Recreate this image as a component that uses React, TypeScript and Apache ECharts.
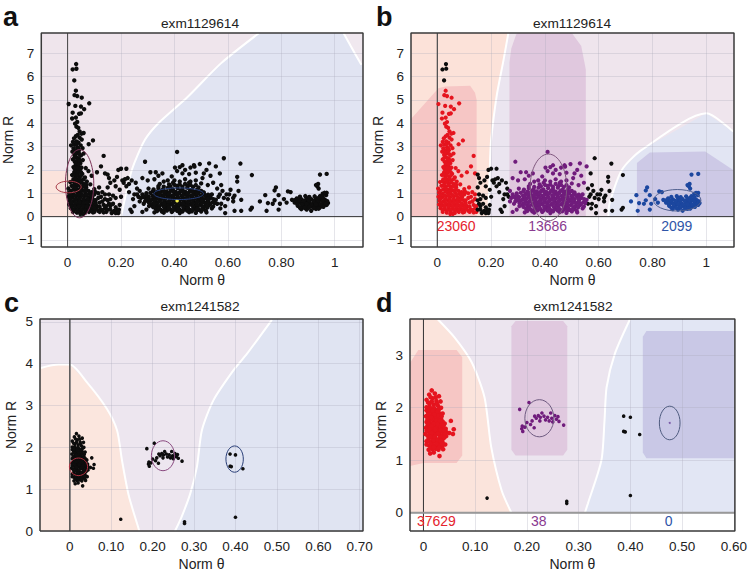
import React, { useEffect, useRef } from "react";
import * as echarts from "echarts";

// ---------- data: [Norm θ, Norm R] ----------
const exm1129614Plume = [
[.032,6.53],[.019,6.3],[.033,6.33],[.025,5.83],[.031,5.39],[.026,5.2],[.036,5.16],[.053,5.09],[.081,4.85],[.004,4.82],[.029,4.74],[.05,4.71],[.062,4.6],[.043,4.4],[.05,4.42],[.019,4.45],[.017,4.2],[.031,4.24],[.036,4.05],[.028,3.98],[.033,3.85],[.04,3.8],[.045,3.65],[.06,3.58],[.052,3.55],[.038,3.5],[.031,3.44],[.024,3.35],[.045,3.38],[.053,3.3],[.095,3.26],[.02,3.2],[.033,3.22],[.041,3.17],[.079,3.1],[.013,3.05],[.026,3.08],[.049,3.05],[.036,2.96],[.022,2.92],[.056,2.93],[.03,2.83],[.043,2.84],[.018,2.78],[.06,2.7],[.036,2.72],[.025,2.65],[.05,2.62],[.032,2.55],[.042,2.5],[.02,2.45],[.057,2.42],[.027,2.35],[.036,2.33],[.048,2.28],[.03,2.2],[.04,2.16],[.022,2.12],[.052,2.1],[.068,2.08],[.03,2.02],[.043,1.98],[.025,1.9],[.035,1.86],[.055,1.83],[.078,1.95],[.017,1.78],[.03,1.72],[.045,1.7],[.065,1.68],[.09,1.75],[.022,1.6],[.037,1.58],[.052,1.55],[.072,1.5],[.01,1.48],[.028,1.45],[.042,1.42],[.06,1.4],[.085,1.38],[.015,1.32],[.033,1.3],[.05,1.28],[.07,1.25],[.003,1.2],[.022,1.18],[.04,1.15],[.058,1.12],[.078,1.1],[.1,1.18],
[.034,3.1],[.04,2.92],[.03,2.74],[.044,2.68],[.026,2.52],[.038,2.42],[.046,2.4],[.032,2.28],[.042,2.24],[.026,2.06],[.036,2.08],[.047,2.04],[.03,1.94],[.04,1.9],[.05,1.9],[.024,1.8],[.036,1.76],[.05,1.76],[.06,1.6],[.03,1.62],[.044,1.6],[.02,1.52],[.036,1.5],[.05,1.46],[.07,1.36],[.024,1.36],[.042,1.34],[.06,1.3],[.03,1.22],[.05,1.2],[.068,1.15],[.012,1.1],[.03,1.08],[.048,1.08],[.09,1.05],
];
const exm1129614Blob = [
[.006,1.02],[.02,.98],[.036,1.04],[.05,.99],[.066,1.02],[.083,.97],[.097,1.03],
[.004,.85],[.018,.82],[.033,.87],[.047,.83],[.062,.86],[.078,.81],[.092,.84],
[.008,.68],[.023,.66],[.038,.7],[.053,.65],[.068,.69],[.082,.66],[.098,.7],
[.006,.52],[.02,.49],[.035,.53],[.05,.5],[.065,.52],[.08,.48],[.094,.5],
[.012,.36],[.028,.33],[.043,.37],[.058,.34],[.073,.36],[.088,.32],[.104,.35],
[.02,.2],[.035,.17],[.05,.21],[.065,.16],[.08,.2],[.048,.11],[.095,.18],
[.012,.92],[.027,.9],[.042,.94],[.057,.91],[.072,.93],[.088,.9],
[.011,.76],[.03,.74],[.045,.77],[.06,.74],[.075,.76],[.09,.75],
[.014,.6],[.03,.58],[.045,.61],[.06,.58],[.074,.6],[.09,.57],[.104,.6],
[.014,.44],[.028,.42],[.043,.45],[.058,.42],[.072,.44],[.087,.41],[.1,.45],
[.02,.28],[.036,.26],[.05,.29],[.066,.25],[.08,.28],[.095,.26],[.058,.12],
];
const exm1129614Spread = [
[.1,.95],[.105,.7],[.11,.45],[.115,.25],[.1,.2],[.12,.6],[.125,.85],[.13,1.05],[.118,1.25],[.14,.35],[.145,.2],[.135,.5],[.15,.7],[.155,.95],[.15,1.25],[.16,.3],[.165,.15],[.17,.55],[.175,.25],[.18,.8],[.185,.2],[.19,.15],[.192,.3],[.16,1.45],[.14,1.85],[.15,1.8],[.135,2.6],[.125,2.15],[.11,1.9],[.155,1.65],[.175,1.55],[.18,1.3],[.185,1.7],[.2,2.05],[.22,2.05],[.19,2.0],[.205,1.55],[.215,1.6],[.225,1.65],[.21,1.45],[.23,1.4],[.24,1.55],[.22,1.3],[.195,1.15],[.2,.85],[.23,1.05],[.25,.95],[.245,.75],[.235,.3],[.24,.2],[.25,.45],[.26,1.2],[.27,1.1],[.265,.85],[.255,1.45],[.27,.65],[.28,.95],[.285,.55],[.29,.8],[.295,1.0],[.29,2.35],[.28,1.65],[.30,1.55],[.31,1.9],[.305,.45],[.295,.3],[.28,.2],
[.16,.45],[.17,.9],[.125,.3],[.14,.75],[.195,.5],
[.108,.32],[.12,.42],[.13,.28],[.115,.8],[.12,.2],[.135,.18],[.13,.65],[.145,.45],[.15,.3],[.155,.55],[.18,.4],[.17,.2],[.18,.15],[.187,.28],[.19,.22],
[.105,1.05],[.115,1.0],[.105,.55],[.1,.38],[.14,.95],[.16,.75],[.285,.85],[.275,.8],[.26,.95],[.29,.65],[.3,.7],[.3,.85],
];
const exm1129614Main = [
[.303,1.2],[.322,1.16],[.34,1.22],[.358,1.18],[.376,1.24],[.394,1.17],[.412,1.22],[.43,1.18],[.448,1.24],[.466,1.16],[.484,1.14],[.5,1.1],
[.31,1.02],[.328,.98],[.346,1.03],[.364,.99],[.382,1.04],[.4,.97],[.418,1.02],[.436,.98],[.454,1.03],[.472,.97],[.49,1.01],[.508,.97],[.526,.94],
[.304,.84],[.322,.81],[.34,.86],[.358,.82],[.376,.87],[.394,.8],[.412,.85],[.43,.81],[.448,.86],[.466,.8],[.484,.84],[.502,.8],[.52,.85],[.536,.8],
[.31,.67],[.328,.64],[.346,.69],[.364,.65],[.382,.7],[.4,.63],[.418,.68],[.436,.64],[.454,.69],[.472,.63],[.49,.67],[.508,.63],[.526,.68],[.544,.62],
[.316,.5],[.334,.47],[.352,.52],[.37,.48],[.388,.53],[.406,.46],[.424,.51],[.442,.47],[.46,.52],[.478,.46],[.496,.5],[.514,.46],[.532,.5],
[.33,.33],[.348,.3],[.366,.34],[.384,.31],[.402,.35],[.42,.29],[.438,.33],[.456,.3],[.474,.34],[.492,.29],[.51,.32],[.54,.35],
[.325,.18],[.36,.17],[.39,.2],[.42,.15],[.455,.19],[.48,.16],[.52,.18],
[.335,.24],[.353,.22],[.372,.26],[.391,.23],[.41,.25],[.43,.22],[.447,.26],[.465,.23],[.483,.25],[.5,.22],[.518,.25],
[.32,.41],[.34,.39],[.36,.43],[.379,.4],[.397,.42],[.415,.38],[.433,.41],[.45,.39],[.47,.42],[.487,.38],[.505,.41],[.523,.39],[.545,.43],
[.305,.58],[.32,.56],[.338,.6],[.355,.57],[.373,.61],[.392,.56],[.41,.59],[.427,.56],[.445,.6],[.463,.55],[.482,.59],[.5,.56],[.517,.58],[.535,.56],[.55,.58],
[.3,.75],[.315,.73],[.332,.77],[.35,.74],[.367,.78],[.385,.72],[.403,.76],[.42,.73],[.44,.77],[.458,.72],[.476,.76],[.494,.72],[.511,.75],[.528,.73],[.546,.75],
[.295,.93],[.318,.9],[.336,.95],[.354,.91],[.372,.95],[.39,.89],[.408,.94],[.427,.9],[.445,.95],[.462,.89],[.48,.93],[.498,.89],[.515,.92],[.53,.87],
[.32,1.09],[.335,1.07],[.352,1.11],[.37,1.08],[.387,1.12],[.405,1.06],[.423,1.11],[.44,1.07],[.458,1.11],[.476,1.06],[.492,1.08],[.51,1.04],
[.34,1.3],[.36,1.28],[.385,1.3],[.41,1.32],[.43,1.28],[.45,1.31],[.47,1.27],[.49,1.25],[.395,1.45],[.455,1.45],
];
const exm1129614Core = [
[.343,.45],[.361,.55],[.379,.5],[.396,.6],[.414,.47],[.432,.57],[.45,.49],[.468,.58],[.485,.5],[.503,.6],
[.343,.66],[.361,.74],[.379,.63],[.396,.74],[.414,.64],[.432,.72],[.45,.63],[.468,.72],[.485,.63],[.503,.71],
[.343,.82],[.361,.92],[.379,.84],[.396,.9],[.414,.8],[.432,.9],[.45,.8],[.468,.9],[.485,.8],[.503,.9],
[.343,1.0],[.361,1.06],[.379,.98],[.396,1.08],[.414,.98],[.432,1.06],[.45,.98],[.468,1.06],[.485,.98],
[.343,.33],[.361,.28],[.379,.37],[.396,.28],[.414,.33],[.432,.27],[.45,.35],[.468,.29],[.485,.33],[.503,.3],
[.325,.55],[.325,.72],[.325,.88],[.525,.6],[.525,.77],[.525,.45],
[.86,.68],[.876,.56],[.892,.66],[.908,.56],[.924,.68],[.94,.56],[.956,.7],[.87,.6],[.9,.72],[.93,.65],[.962,.5],[.9,.36],[.925,.45],[.885,.5],[.945,.48],
];
const exm1129614Upper = [
[.41,2.77],[.402,2.1],[.42,2.12],[.43,2.2],[.44,2.0],[.46,2.1],[.473,2.2],[.475,2.14],[.495,2.25],[.53,2.28],[.51,1.85],[.52,2.0],[.505,1.65],[.535,1.75],[.48,1.88],[.455,1.82],[.43,1.85],[.41,1.95],[.39,1.72],[.375,1.55],[.355,1.85],[.34,1.75],[.325,1.6],[.33,1.9],[.345,1.4],[.36,1.5],[.4,1.55],[.42,1.5],[.44,1.6],[.46,1.5],[.48,1.55],[.5,1.42],[.525,1.35],[.545,1.45],[.38,1.38],[.4,1.36],[.42,1.37],[.44,1.4],[.46,1.36],[.48,1.35],[.555,2.15],[.585,2.5],[.57,1.85],
];
const exm1129614Right = [
[.56,1.2],[.575,1.35],[.58,1.1],[.595,.95],[.565,.85],[.61,1.15],[.625,.9],[.6,.75],[.62,.8],[.64,1.1],[.65,.72],[.635,1.7],[.69,1.78],[.647,2.27],[.635,1.5],[.575,.55],[.59,.15],[.572,.35],[.625,.25],[.65,.25],[.685,.3],[.69,.38],[.72,.65],[.745,.25],[.74,.92],[.75,.58],[.768,.55],[.775,1.12],[.78,1.25],[.775,.7],[.79,.92],[.79,.3],[.795,.55],[.81,.75],[.82,.6],[.825,1.08],[.835,1.05],
[.84,.72],[.858,.78],[.876,.74],[.894,.8],[.912,.75],[.93,.78],[.95,.72],[.965,.7],
[.85,.6],[.868,.62],[.886,.58],[.904,.63],[.922,.59],[.94,.62],[.958,.6],[.975,.58],
[.862,.46],[.88,.44],[.898,.48],[.916,.43],[.934,.47],[.952,.45],[.97,.5],
[.875,.32],[.895,.3],[.912,.25],[.93,.33],[.945,.4],[.96,.75],[.945,.88],[.955,.98],[.97,1.02],[.935,1.3],[.938,1.4],[.93,1.35],[.94,1.2],[.945,1.8],[.97,1.83],
[.85,.7],[.867,.7],[.885,.67],[.903,.71],[.92,.67],[.938,.7],[.955,.66],[.972,.66],
[.86,.53],[.878,.51],[.895,.54],[.913,.5],[.93,.53],[.948,.52],[.965,.54],
[.87,.38],[.888,.37],[.905,.4],[.922,.36],[.94,.34],[.958,.42],
[.87,.85],[.89,.88],[.905,.84],[.925,.87],[.94,.8],[.955,.85],[.968,.92],[.962,1.02],
[.57,.95],[.585,.8],[.555,.72],[.56,.55],[.54,.95],[.605,.95],[.62,.65],[.59,.45],
];

const exm1241582Column = [
[.016,2.33],[.022,2.27],[.011,2.25],[.03,2.22],[.018,2.18],[.006,2.15],[.025,2.13],[.033,2.12],[.012,2.08],[.02,2.06],[.028,2.04],[.006,2.01],[.034,2.0],[.015,1.97],[.023,1.96],[.009,1.91],[.03,1.9],[.037,1.89],[.018,1.86],[.005,1.84],[.026,1.83],[.012,1.79],[.034,1.79],[.02,1.75],[.006,1.73],[.029,1.72],[.041,1.7],[.013,1.68],[.022,1.66],[.035,1.64],[.005,1.62],[.029,1.6],[.043,1.6],[.016,1.57],[.01,1.55],[.024,1.55],[.038,1.53],[.05,1.52],[.004,1.5],[.018,1.47],[.031,1.48],[.044,1.46],[.01,1.42],[.024,1.41],[.037,1.4],[.006,1.36],[.017,1.35],[.03,1.33],[.042,1.3],[.011,1.28],[.024,1.27],[.036,1.26],[.017,1.21],[.029,1.2],[.01,1.2],[.02,1.15],[.013,1.13],
[.053,1.75],[.0586,1.59],[.057,1.5],[.031,1.08],
[.014,2.2],[.024,2.2],[.016,2.12],[.009,2.1],[.026,2.08],[.012,2.02],[.02,2.0],[.03,1.97],[.006,1.95],[.016,1.92],[.024,1.9],[.013,1.85],[.03,1.85],[.022,1.81],[.008,1.78],[.017,1.78],[.028,1.78],[.037,1.74],[.012,1.73],[.024,1.71],[.034,1.7],[.017,1.7],[.008,1.66],[.029,1.66],[.018,1.62],[.012,1.62],[.024,1.61],[.036,1.59],[.006,1.56],[.02,1.54],[.031,1.54],[.044,1.54],[.013,1.5],[.025,1.49],[.037,1.47],[.008,1.47],[.018,1.42],[.031,1.41],[.012,1.36],[.024,1.35],[.037,1.34],[.006,1.3],[.018,1.29],[.03,1.28],[.014,1.24],[.024,1.22],[.038,1.21],
[.01,1.97],[.018,1.94],[.027,1.93],[.01,1.87],[.021,1.87],[.035,1.84],[.015,1.82],[.025,1.76],[.032,1.75],[.01,1.69],[.02,1.69],[.027,1.69],[.039,1.66],[.015,1.65],[.023,1.58],[.033,1.57],[.04,1.56],[.012,1.58],[.016,1.52],[.028,1.51],[.042,1.5],[.022,1.45],[.034,1.44],[.014,1.44],[.04,1.43],[.02,1.38],[.028,1.38],[.034,1.37],[.014,1.31],[.025,1.31],[.036,1.31],[.02,1.25],[.03,1.24],
];
const exm1241582Middle = [
[.186,1.97],[.204,2.1],[.19,1.6],[.192,1.55],[.191,1.65],[.196,1.63],[.2,1.72],[.207,1.68],[.21,1.75],[.214,1.62],[.215,1.84],[.218,1.8],[.222,1.85],[.226,1.82],[.229,1.9],[.233,1.84],[.236,1.77],[.24,1.82],[.243,1.75],[.246,1.9],[.248,1.8],[.25,1.73],[.254,1.85],[.257,1.78],[.26,1.83],[.262,1.74],[.271,1.67],[.225,1.75],
];
const exm1241582Others = [
[.123,.28],[.277,.22],[.277,.18],[.4,.33],[.387,1.84],[.4,1.82],[.387,1.55],[.39,1.54],[.418,1.49],
];

const exm1129614Points = [...exm1129614Plume, ...exm1129614Blob, ...exm1129614Spread, ...exm1129614Main, ...exm1129614Core, ...exm1129614Upper, ...exm1129614Right];
const exm1241582Points = [...exm1241582Column, ...exm1241582Middle, ...exm1241582Others];

// ---------- axes ----------
const titles = ["exm1129614", "exm1129614", "exm1241582", "exm1241582"];
const panelLetters = ["a", "b", "c", "d"];
const xTicksTop = [0, 0.2, 0.4, 0.6, 0.8, 1];
const xLabelsTop = ["0", "0.20", "0.40", "0.60", "0.80", "1"];
const yTicksTop = [-1, 0, 1, 2, 3, 4, 5, 6, 7];
const yLabelsTop = ["\u22121", "0", "1", "2", "3", "4", "5", "6", "7"];
const xTicksC = [0, 0.1, 0.2, 0.3, 0.4, 0.5, 0.6, 0.7];
const xLabelsC = ["0", "0.10", "0.20", "0.30", "0.40", "0.50", "0.60", "0.70"];
const yTicksC = [0, 1, 2, 3, 4, 5];
const xTicksD = [0, 0.1, 0.2, 0.3, 0.4, 0.5, 0.6];
const xLabelsD = ["0", "0.10", "0.20", "0.30", "0.40", "0.50", "0.60"];
const yTicksD = [0, 1, 2, 3];

// ---------- region outlines in data coordinates ----------
const aBlueEdge = [[.717,7.86],[.574,6.56],[.45,5.13],[.34,4.0],[.29,3.3],[.25,2.3],[.233,1.7],[.2,0]];
const aTopRightEdge = [[1.033,7.86],[1.06,7.3],[1.1,6.5]];
const aRedRegion = [[-.1,0],[-.1,1.95],[.0,1.95],[.02,1.5],[.02,0]];
const bLeftEdge = [[.264,7.86],[.246,6.7],[.22,5.13],[.2,3.3],[.196,2.43],[.19,0]];
const bBlueEdge = [[.636,0],[.64,.55],[.686,2.0],[.76,2.86],[1.0,4.42],[1.1,3.64]];
const bRedCore = [[-.1,0],[-.1,4.15],[.004,5.5],[.03,5.57],[.122,5.6],[.14,5.3],[.146,5.0],[.146,0]];
const bPurpleCore = [[.268,0],[.268,6.6],[.275,7.2],[.293,7.8],[.3,7.86],[.5,7.86],[.535,7.3],[.552,6.3],[.552,0]];
const bBlueCore = [[.742,0],[.742,2.3],[.79,2.75],[.996,2.79],[1.1,2.0],[1.1,0]];
const cRedEdge = [[-.07,3.9],[-.027,3.98],[0,3.98],[.041,3.56],[.089,2.93],[.114,2.41],[.126,1.69],[.142,.86],[.166,.06],[.168,0]];
const cBlueEdge = [[.488,5.05],[.428,4.24],[.395,3.84],[.347,3.13],[.319,2.41],[.307,1.54],[.291,.9],[.27,.34],[.254,0]];
const dRedEdge = [[.028,3.68],[.06,3.34],[.093,2.87],[.118,2.2],[.131,1.25],[.151,.43],[.17,0]];
const dBlueEdge = [[.399,3.68],[.37,3.03],[.354,2.39],[.35,1.76],[.344,1],[.318,.18],[.312,0]];
const dRedCore = [[-.026,.89],[0,.95],[.064,.95],[.075,1.09],[.075,2.96],[.064,3.1],[-.01,3.1],[-.026,2.85]];
const dPurpleCore = [[.17,1.2],[.178,1.09],[.27,1.09],[.278,1.2],[.278,3.55],[.27,3.65],[.178,3.65],[.17,3.55]];
const dBlueCore = [[.424,1.15],[.431,1.04],[.6,1.04],[.6,3.46],[.431,3.46],[.424,3.35]];

// ---------- small shapes ----------
const ellipsesA = [
  { cx: .045, cy: 1.41, rx: .053, ry: 1.46, c: "#7c3358" },
  { cx: .004, cy: 1.27, rx: .047, ry: .25, c: "#a83a48" },
  { cx: .416, cy: .98, rx: .093, ry: .25, c: "#27407e" },
];
const ellipsesB = [
  { cx: .413, cy: 1.25, rx: .068, ry: 1.43, c: "#80587f" },
  { cx: .892, cy: .7, rx: .088, ry: .46, c: "#4f5f8e" },
];
const ellipsesC = [
  { cx: .021, cy: 1.535, rx: .022, ry: .21, c: "#b03040" },
  { cx: .225, cy: 1.8, rx: .028, ry: .358, c: "#8a4a80" },
  { cx: .398, cy: 1.72, rx: .021, ry: .314, c: "#2a3f78" },
];
const ellipsesD = [
  { cx: .224, cy: 1.8, rx: .028, ry: .354, c: "#6e5a80" },
  { cx: .476, cy: 1.71, rx: .02, ry: .32, c: "#4f5c80" },
];
const labelsB = [
  { x: .07, y: -.385, t: "23060", c: "#e5232d" },
  { x: .41, y: -.385, t: "13686", c: "#8a3a90" },
  { x: .89, y: -.385, t: "2099", c: "#2f55a8" },
];
const labelsD = [
  { x: .025, y: -.15, t: "37629", c: "#e5232d" },
  { x: .223, y: -.15, t: "38", c: "#8a3a90" },
  { x: .474, y: -.15, t: "0", c: "#2f55a8" },
];
const markA = [[.41, .68]];
const markD = [[.476, 1.71]];

const FONT = '"Liberation Sans", Arial, sans-serif';
const INK = "#3a3a3a";
const BLACK = "#0d0d0d";
const RED = "#e5141e";
const PURPLE = "#701c7c";
const BLUE = "#1c479f";

const grids = [
  { left: 39, top: 33, width: 324, height: 214 },
  { left: 411, top: 33, width: 323, height: 214 },
  { left: 40, top: 319, width: 323, height: 212 },
  { left: 410, top: 319, width: 325, height: 212 },
];

const extents = [
  { x: [-.0985, 1.106], y: [-1.3, 7.86] },
  { x: [-.098, 1.103], y: [-1.3, 7.86] },
  { x: [-.072, .708], y: [0, 5.07] },
  { x: [-.026, .602], y: [-.347, 3.69] },
];

type Region = { pts: number[][]; fill: string };

function regionSeries(i: number, regions: Region[]) {
  return {
    type: "custom", xAxisIndex: i, yAxisIndex: i, z: 1, silent: true, clip: true,
    data: regions.map((_, k) => [k]),
    renderItem: (p: any, api: any) => {
      const r = regions[p.dataIndex];
      return { type: "polygon", shape: { points: r.pts.map((q) => api.coord(q)) }, style: { fill: r.fill } };
    },
  };
}
function edgeSeries(i: number, edge: number[][]) {
  return {
    type: "line", xAxisIndex: i, yAxisIndex: i, z: 1, silent: true, symbol: "none", smooth: 0.25,
    data: edge, lineStyle: { color: "#ffffff", width: 2 },
  };
}
function ellipseSeries(i: number, list: typeof ellipsesA, z: number) {
  return {
    type: "custom", xAxisIndex: i, yAxisIndex: i, z, silent: true,
    data: list.map((_, k) => [k]),
    renderItem: (p: any, api: any) => {
      const e = list[p.dataIndex];
      const [cx, cy] = api.coord([e.cx, e.cy]);
      const [rx, ry] = api.size([e.rx, e.ry]);
      return { type: "ellipse", shape: { cx, cy, rx, ry }, style: { fill: "none", stroke: e.c, lineWidth: 1 } };
    },
  };
}
function labelSeries(i: number, list: typeof labelsB) {
  return {
    type: "custom", xAxisIndex: i, yAxisIndex: i, z: 8, silent: true,
    data: list.map((_, k) => [k]),
    renderItem: (p: any, api: any) => {
      const l = list[p.dataIndex];
      const [x, y] = api.coord([l.x, l.y]);
      return { type: "text", x, y, style: { text: l.t, fill: l.c, font: `14px ${FONT}`, align: "center", verticalAlign: "middle" } };
    },
  };
}
function dots(i: number, data: number[][], color: string, size = 4) {
  return { type: "scatter", xAxisIndex: i, yAxisIndex: i, z: 5, silent: true, symbolSize: size, data, itemStyle: { color, opacity: 1 } };
}
function straight(i: number, data: number[][], color: string, width: number, z = 4) {
  return { type: "line", xAxisIndex: i, yAxisIndex: i, z, silent: true, clip: false, symbol: "none", data, lineStyle: { color, width } };
}
function frame(i: number) {
  const { x, y } = extents[i];
  return straight(i, [[x[0], y[0]], [x[1], y[0]], [x[1], y[1]], [x[0], y[1]], [x[0], y[0]]], INK, 1.5, 6);
}

function rect(i: number, y0: number, y1: number) {
  const { x } = extents[i];
  return [[x[0], y0], [x[1], y0], [x[1], y1], [x[0], y1]];
}
function closeTo(edge: number[][], ...rest: number[][]) {
  return [...edge, ...rest];
}

function buildOption() {
  const labelFmt = (ticks: number[], labels: string[]) => (v: number) =>
    labels[ticks.findIndex((t) => Math.abs(t - v) < 1e-6)] ?? "";
  const xaxis = (i: number, ticks: number[], labels: string[]) => ({
    type: "value", gridIndex: i, min: extents[i].x[0], max: extents[i].x[1], z: 2,
    name: "Norm \u03b8", nameLocation: "middle", nameGap: 26,
    nameTextStyle: { fontFamily: FONT, fontSize: 14, color: "#222" },
    axisLine: { show: false },
    axisTick: { show: false, customValues: ticks },
    axisLabel: {
      customValues: ticks, margin: 8, fontFamily: FONT, fontSize: 13.5, color: "#222", hideOverlap: false,
      formatter: labelFmt(ticks, labels),
    },
    splitLine: { show: true, lineStyle: { color: "rgba(170,170,185,0.3)", width: 1 } },
  });
  const yaxis = (i: number, ticks: number[], labels: string[]) => ({
    type: "value", gridIndex: i, min: extents[i].y[0], max: extents[i].y[1], z: 2,
    name: "Norm R", nameLocation: "middle", nameGap: 22, nameRotate: 90,
    nameTextStyle: { fontFamily: FONT, fontSize: 14, color: "#222" },
    axisLine: { show: false },
    axisTick: { show: false, customValues: ticks },
    axisLabel: {
      customValues: ticks, margin: 7, fontFamily: FONT, fontSize: 13.5, color: "#222", hideOverlap: false,
      formatter: labelFmt(ticks, labels),
    },
    splitLine: { show: true, lineStyle: { color: "rgba(170,170,185,0.3)", width: 1 } },
  });

  const bRed = exm1129614Points.filter(([x, y]) => x < .15 && y < 5.55);
  const bTop = exm1129614Points.filter(([x, y]) => x < .15 && y >= 5.55);
  const bPurple = exm1129614Points.filter(([x]) => x >= .27 && x < .56);
  const bBlue = exm1129614Points.filter(([x]) => x >= .72);
  const bBlack = exm1129614Points.filter(([x]) => (x >= .15 && x < .27) || (x >= .56 && x < .72));
  const dRed = exm1241582Points.filter(([x]) => x < .07);
  const dPurple = exm1241582Points.filter(([x, y]) => x >= .18 && x < .28 && y > 1);
  const dBlack = exm1241582Points.filter(([x, y]) => !(x < .07) && !(x >= .18 && x < .28 && y > 1));

  const series: any[] = [
    // a
    regionSeries(0, [
      { pts: rect(0, 0, 7.86), fill: "#efe5ec" },
      { pts: closeTo(aBlueEdge, [1.106, 0], [1.106, 6.4], [1.033, 7.86]), fill: "#e1e4f2" },
      { pts: closeTo(aTopRightEdge, [1.106, 7.86]), fill: "#f0e8ef" },
      { pts: aRedRegion, fill: "#fbe3dc" },
    ]),
    edgeSeries(0, aBlueEdge), edgeSeries(0, aTopRightEdge),
    dots(0, exm1129614Points, BLACK, 4.4),
    dots(0, markA, "#f3ee4a", 3.5),
    ellipseSeries(0, ellipsesA, 6),
    straight(0, [[0, extents[0].y[0]], [0, extents[0].y[1]]], "#444", 1),
    straight(0, [[extents[0].x[0], 0], [extents[0].x[1], 0]], "#333", 1),
    frame(0),
    // b
    regionSeries(1, [
      { pts: rect(1, 0, 7.86), fill: "#efe5ed" },
      { pts: closeTo(bLeftEdge, [-.098, 0], [-.098, 7.86]), fill: "#fce2d9" },
      { pts: [...bLeftEdge, [.268, 0], [.268, 7.86]], fill: "#ebe5f0" },
      { pts: closeTo(bBlueEdge, [1.103, 0]), fill: "#e2e5f3" },
      { pts: bRedCore, fill: "#f6c6c5" },
      { pts: bPurpleCore, fill: "#e0c8de" },
      { pts: bBlueCore, fill: "#cdc9e6" },
    ]),
    edgeSeries(1, bLeftEdge), edgeSeries(1, bBlueEdge),
    dots(1, bRed, RED, 4.2),
    dots(1, bTop, BLACK, 4.2),
    dots(1, bBlack, BLACK, 4.2),
    dots(1, bPurple, PURPLE, 4.2),
    dots(1, bBlue, BLUE, 4.2),
    ellipseSeries(1, ellipsesB, 6),
    labelSeries(1, labelsB),
    straight(1, [[0, extents[1].y[0]], [0, extents[1].y[1]]], "#555", 1.3),
    straight(1, [[extents[1].x[0], 0], [extents[1].x[1], 0]], "#333", 1),
    frame(1),
    // c
    regionSeries(2, [
      { pts: rect(2, 0, 5.07), fill: "#ede6ef" },
      { pts: closeTo(cRedEdge, [-.072, 0], [-.072, 3.9]), fill: "#fbe6de" },
      { pts: closeTo(cBlueEdge, [.708, 0], [.708, 5.07], [.488, 5.07]), fill: "#e0e4f2" },
    ]),
    edgeSeries(2, cRedEdge), edgeSeries(2, cBlueEdge),
    dots(2, exm1241582Points, BLACK, 3.6),
    ellipseSeries(2, ellipsesC, 6),
    straight(2, [[0, extents[2].y[0]], [0, extents[2].y[1]]], "#555", 1.5),
    frame(2),
    // d
    regionSeries(3, [
      { pts: rect(3, 0, 3.69), fill: "#ece5ef" },
      { pts: closeTo(dRedEdge, [-.026, 0], [-.026, 3.69], [.028, 3.69]), fill: "#fbe4dc" },
      { pts: closeTo(dBlueEdge, [.602, 0], [.602, 3.69], [.399, 3.69]), fill: "#e2e6f4" },
      { pts: dRedCore, fill: "#f6c6c4" },
      { pts: dPurpleCore, fill: "#e0c9df" },
      { pts: dBlueCore, fill: "#c9c8e6" },
    ]),
    edgeSeries(3, dRedEdge), edgeSeries(3, dBlueEdge),
    dots(3, dRed, RED, 4.6),
    dots(3, dPurple, PURPLE, 3.6),
    dots(3, dBlack, BLACK, 3.6),
    dots(3, markD, "#7a5aa8", 2),
    ellipseSeries(3, ellipsesD, 6),
    labelSeries(3, labelsD),
    straight(3, [[0, extents[3].y[0]], [0, extents[3].y[1]]], "#333", 1),
    straight(3, [[extents[3].x[0], 0], [extents[3].x[1], 0]], "#999", 2),
    frame(3),
  ];

  const titleCenters = [200, 572, 200, 573];
  const titleTops = [16, 16, 299, 299];
  const letterPos = [[3, 3], [376, 3], [4, 289], [376, 289]];

  return {
    animation: false,
    backgroundColor: "#ffffff",
    title: [
      ...titles.map((t, i) => ({
        text: t, left: titleCenters[i], top: titleTops[i], textAlign: "center", padding: 0,
        textStyle: { fontFamily: FONT, fontSize: 13.7, fontWeight: "normal", color: "#222" },
      })),
      ...panelLetters.map((t, i) => ({
        text: t, left: letterPos[i][0], top: letterPos[i][1], padding: 0,
        textStyle: { fontFamily: FONT, fontSize: 27, fontWeight: "bold", color: "#111" },
      })),
    ],
    grid: grids,
    xAxis: [
      xaxis(0, xTicksTop, xLabelsTop),
      xaxis(1, xTicksTop, xLabelsTop),
      xaxis(2, xTicksC, xLabelsC),
      xaxis(3, xTicksD, xLabelsD),
    ],
    yAxis: [
      yaxis(0, yTicksTop, yLabelsTop),
      yaxis(1, yTicksTop, yLabelsTop),
      yaxis(2, yTicksC, yTicksC.map(String)),
      yaxis(3, yTicksD, yTicksD.map(String)),
    ],
    series,
  };
}

export default function App() {
  const ref = useRef<HTMLDivElement>(null);
  useEffect(() => {
    const chart = echarts.init(ref.current!, undefined, { renderer: "svg" });
    chart.setOption(buildOption() as any);
    return () => chart.dispose();
  }, []);
  return <div ref={ref} style={{ position: "absolute", left: 0, top: 0, width: 750, height: 574 }} />;
}
